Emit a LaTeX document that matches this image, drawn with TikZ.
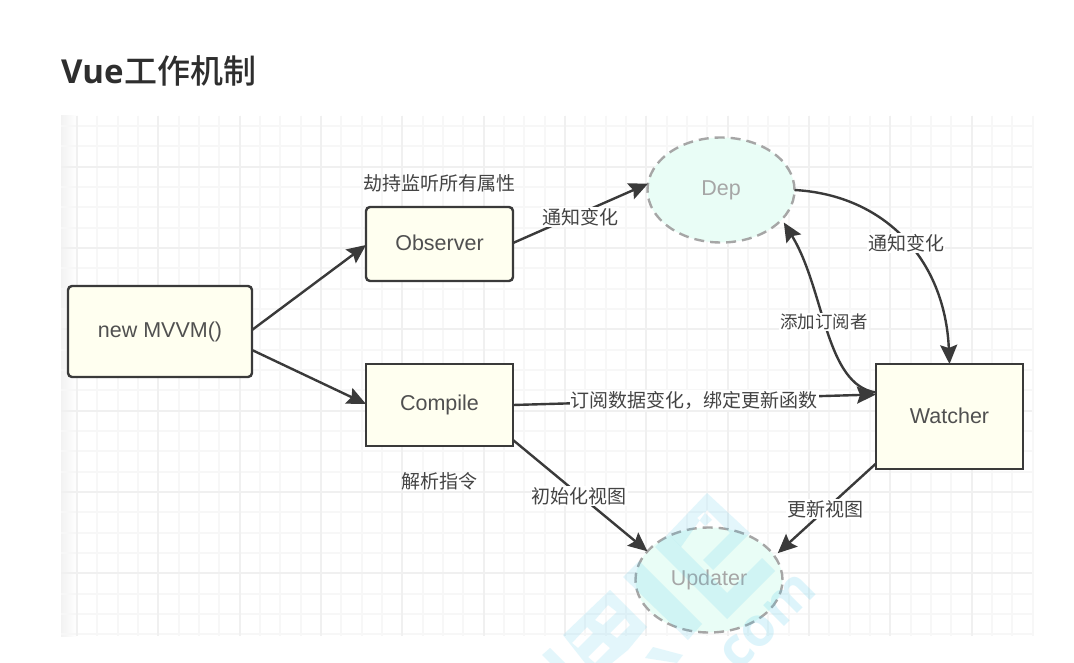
\documentclass[tikz,border=0pt]{standalone}
\usepackage{fontspec}
\setmainfont{Liberation Sans}
\newfontfamily\cjk{Noto Sans CJK SC}
\newfontfamily\cjkb{Noto Sans CJK SC Medium}
\newfontfamily\titlef{Open Sans}
\usetikzlibrary{arrows.meta,shapes.geometric,calc}
\definecolor{boxfill}{HTML}{FFFFF0}
\definecolor{boxline}{HTML}{3A3A3A}
\definecolor{ellfill}{HTML}{E9FDF6}
\definecolor{ellline}{HTML}{A6A6A6}
\definecolor{txt}{HTML}{505050}
\definecolor{wm}{HTML}{45C6EA}
\tikzset{
  x=1pt,y=-1pt,
  boxbase/.style={draw=boxline,fill=boxfill,line width=2.4pt,text=txt,font=\fontsize{21.5}{24}\selectfont,outer sep=0pt,inner sep=0pt},
  plainbox/.style={boxbase},
  roundbox/.style={boxbase,rounded corners=4pt},
  ghost/.style={ellipse,draw=ellline,fill=ellfill,dash pattern=on 10pt off 6pt,line width=2.4pt,text=ellline,font=\fontsize{21.5}{24}\selectfont,outer sep=0pt,inner sep=0pt,minimum width=147pt,minimum height=105pt},
  conn/.style={draw=boxline,line width=2.4pt,-{Stealth[length=19pt,width=17pt,inset=3pt]}},
  lab/.style={text=txt!85!black,font=\cjk\fontsize{19}{21}\selectfont,inner sep=1pt},
  lbg/.style={lab,fill=white},
  minorg/.style={draw=black!3,line width=1.3pt},
  majorg/.style={draw=black!6,line width=1.5pt},
  wmark/.style={fill=wm,fill opacity=.15,draw=none,even odd rule}
}
\begin{document}
\begin{tikzpicture}
\useasboundingbox (0,0) rectangle (1074,663);
\fill[white] (0,0) rectangle (1074,663);
\node[anchor=base west,inner sep=0pt,text=black!82] (title) at (61,84) {\fontsize{33}{36}\selectfont{\titlef\bfseries Vue}\hspace{1pt}{\cjkb 工作机制}};
% grid
\fill[left color=black!5,right color=white] (61,116) rectangle (77,636);
\foreach \i in {0,...,47}{
  \pgfmathsetmacro\xx{round(77+20.33*\i)}
  \draw[minorg] (\xx,116) -- (\xx,636);
}
\foreach \i in {0,...,25}{
  \pgfmathsetmacro\yy{round(126+20.33*\i)}
  \draw[minorg] (61,\yy) -- (1032,\yy);
}
\foreach \i in {0,...,11}{
  \pgfmathsetmacro\xx{round(77+81.33*\i)}
  \draw[majorg] (\xx,116) -- (\xx,636);
}
\foreach \i in {0,...,5}{
  \pgfmathsetmacro\yy{round(166.7+81.33*\i)}
  \draw[majorg] (61,\yy) -- (1032,\yy);
}
% nodes
\node[roundbox,minimum width=184pt,minimum height=91pt] (mvvm) at (160,331.5) {new MVVM()};
\node[roundbox,minimum width=147pt,minimum height=74pt] (obs) at (439.5,244) {\raisebox{2pt}{Observer}};
\node[plainbox,minimum width=147pt,minimum height=82pt] (comp) at (439.5,405) {\raisebox{-1pt}{Compile}};
\node[plainbox,minimum width=147pt,minimum height=105pt] (watch) at (949.5,416.5) {\raisebox{2pt}{Watcher}};
\node[ghost] (dep) at (721,190) {\raisebox{-2pt}{Dep}};
\node[ghost] (upd) at (709,580) {\raisebox{-3pt}{Updater}};
% connectors
\draw[conn] ([yshift=1.5pt]mvvm.east) -- ([yshift=-1pt]obs.west);
\draw[conn] ([yshift=-18.5pt]mvvm.east) -- ([yshift=1pt]comp.west);
\draw[conn] ([yshift=1pt]obs.east) -- (dep.175);
\draw[conn] (comp.east) -- ([yshift=22pt]watch.west);
\draw[conn] ([yshift=6pt]comp.south east) -- (upd.155);
\draw[conn] ([yshift=-47pt]watch.west) -- ([xshift=4pt,yshift=2pt]upd.21);
\draw[conn] (dep.east) .. controls (885,195) and (945,260) .. (watch.north);
\draw[conn] ([yshift=24pt]watch.west) .. controls (825,385) and (825,290) .. ([xshift=3pt,yshift=-2pt]dep.-27);
% labels
\node[lab] (l1) at (439,183) {劫持监听所有属性};
\node[lbg] (l2) at (580,217) {通知变化};
\node[lbg] (l3) at (906,243) {通知变化};
\node[lbg,font=\cjk\fontsize{17.5}{20}\selectfont] (l4) at (824,322) {添加订阅者};
\node[lbg] (l5) at (694,400) {订阅数据变化，绑定更新函数};
\node[lab] (l6) at (439,481) {解析指令};
\node[lbg] (l7) at (579,496) {初始化视图};
\node[lbg] (l8) at (825,509) {更新视图};
% watermark
\fill[wmark] (668,534) -- (707,493) -- (750,533) -- (713,570) -- (703,560) -- (730,533) -- (707,510) -- (681,547) -- cycle
  (697,518) -- (704,512) -- (712,520) -- (705,526) -- cycle;
\fill[wmark] (623,577) -- (639,561) -- (702,624) -- (688,640) -- cycle;
\fill[wmark] (655,547) -- (668,534) -- (727,593) -- (762,558) -- (775,571) -- (727,619) -- cycle;
\fill[wmark] (563,635) -- (610,590) -- (647,627) -- (628,650) -- (612,663) -- (585,663) -- cycle
  (595,620) -- (608,605) -- (617,612) -- (603,625) -- cycle
  (610,633) -- (625,618) -- (630,625) -- (617,638) -- cycle
  (572,643) -- (587,627) -- (593,633) -- (578,648) -- cycle
  (588,657) -- (603,642) -- (610,648) -- (595,663) -- cycle;
\fill[wmark] (542,655) -- (550,648) -- (565,663) -- (550,663) -- cycle;
\fill[wmark] (645,658) -- (653,647) -- (683,655) -- (677,663) -- cycle;
\node[rotate=45,text=wm,text opacity=.18,font=\titlef\bfseries\fontsize{54}{54}\selectfont,inner sep=0pt] (wmtext) at (768,622) {com};
\end{tikzpicture}
\end{document}
